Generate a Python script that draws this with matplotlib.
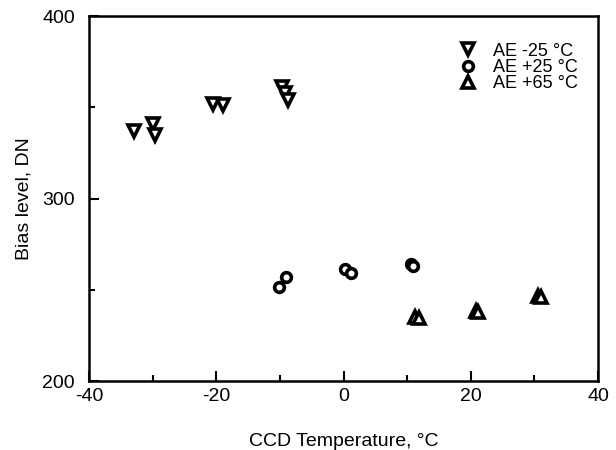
import matplotlib
matplotlib.use("Agg")
import matplotlib.pyplot as plt
from matplotlib.ticker import MultipleLocator

plt.rcParams['font.family'] = ['Liberation Sans', 'DejaVu Sans']
plt.rcParams['axes.unicode_minus'] = False

# AE -25 °C
tempMenos25 = [-32.9, -29.9, -29.6, -20.5, -18.9, -9.6, -9.2, -8.8]
biasMenos25 = [336.8, 341.0, 335.0, 352.0, 351.5, 361.0, 358.0, 354.0]

# AE +25 °C
tempMas25 = [-10.1, -9.1, 0.3, 1.1, 10.6, 10.9]
biasMas25 = [251.6, 257.0, 261.5, 259.3, 264.0, 263.2]

# AE +65 °C
tempMas65 = [11.3, 11.8, 20.8, 21.1, 30.6, 31.0]
biasMas65 = [235.0, 234.8, 238.3, 237.9, 246.8, 246.3]

fig = plt.figure(figsize=(6.16, 4.5), dpi=100)
ax = fig.add_axes([0.1445, 0.1533, 0.8265, 0.8107])

estilo = dict(linestyle='none', markerfacecolor='white', markeredgecolor='black',
              markeredgewidth=2.6, color='black')
ax.plot(tempMenos25, biasMenos25, marker='v', markersize=8.5, label='AE -25 °C', **estilo)
ax.plot(tempMas25, biasMas25, marker='o', markersize=7, label='AE +25 °C', **estilo)
ax.plot(tempMas65, biasMas65, marker='^', markersize=8.5, label='AE +65 °C', **estilo)

ax.set_xlim(-40, 40)
ax.set_ylim(200, 400)
ax.xaxis.set_major_locator(MultipleLocator(20))
ax.xaxis.set_minor_locator(MultipleLocator(10))
ax.yaxis.set_major_locator(MultipleLocator(100))
ax.yaxis.set_minor_locator(MultipleLocator(50))
ax.tick_params(which='both', direction='in', top=False, right=False, width=1.5, labelsize=14)
ax.tick_params(which='major', length=7, pad=5)
ax.tick_params(which='minor', length=4)
ax.tick_params(axis='y', which='major', pad=10)
for lado in ax.spines.values():
    lado.set_linewidth(1.8)

ax.set_xlabel('CCD Temperature, °C', fontsize=14, labelpad=20)
ax.set_ylabel('Bias level, DN', fontsize=14, labelpad=7)

ax.legend(loc='upper right', bbox_to_anchor=(0.975, 0.947), frameon=False, fontsize=13,
          handletextpad=0.8, labelspacing=-0.05, borderaxespad=0.0, handlelength=1.2)

plt.savefig('out.png', dpi=100)
